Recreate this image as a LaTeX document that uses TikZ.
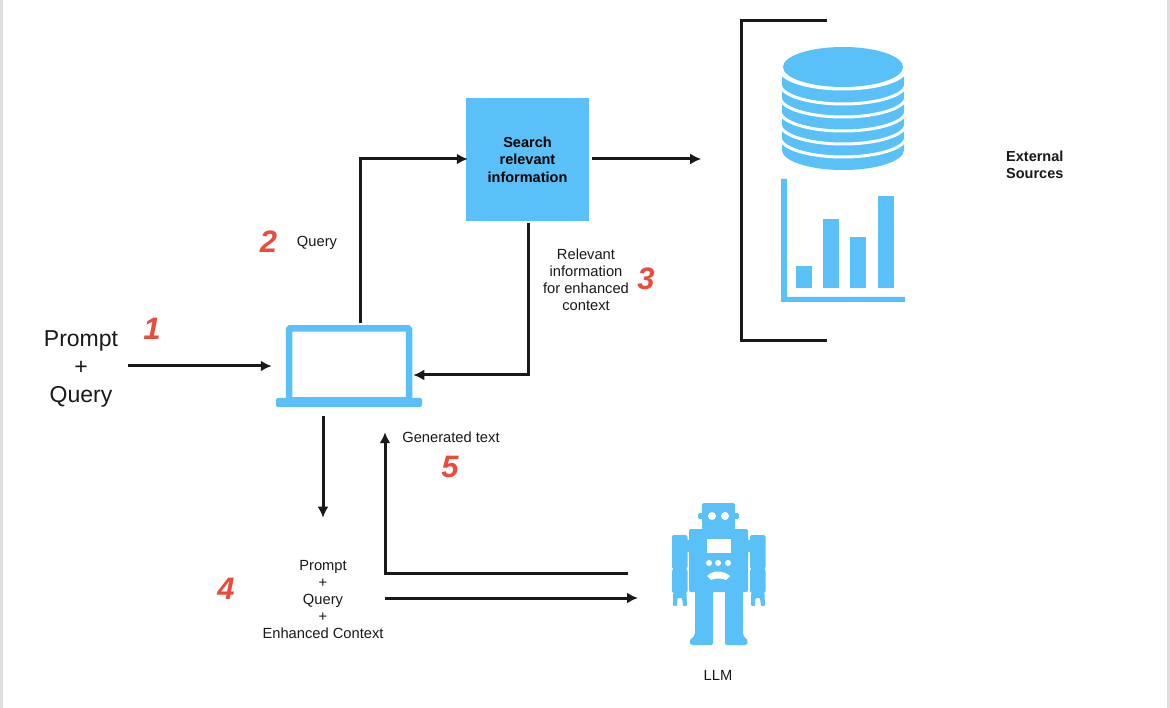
\documentclass[tikz,border=0pt]{standalone}
\usepackage{fontspec}
\setmainfont{Liberation Sans}
\usepackage{tikz}
\usetikzlibrary{arrows.meta,calc,positioning}
\definecolor{sky}{RGB}{90,193,248}
\definecolor{num}{RGB}{231,76,60}
\definecolor{edge}{RGB}{222,222,222}

\begin{document}
\begin{tikzpicture}[
      x=1pt, y=-1pt,
      font=\fontsize{14.7}{17}\selectfont,
      >={Latex[length=11pt,width=11pt]},
      flow/.style={->, line width=3pt, black!90},
      label/.style={align=center, inner sep=0pt, text=black!90},
      stepnum/.style={inner sep=0pt, text=num, font=\fontsize{31}{31}\selectfont\bfseries\itshape},
      searchbox/.style={fill=sky, minimum width=123pt, minimum height=123pt, inner sep=0pt, align=center, font=\fontsize{14.5}{17.5}\selectfont\bfseries},
      skyfill/.style={fill=sky, draw=none},
]

\useasboundingbox (0,0) rectangle (1170,708);
\fill[white] (0,0) rectangle (1170,708);
\fill[edge] (0,0) rectangle (3,708);
\fill[edge] (1167,0) rectangle (1170,708);

% laptop
\node[draw=sky, line width=6.5pt, rounded corners=1pt, minimum width=120pt, minimum height=72pt, inner sep=0pt] (laptop) at (349,364.5) {};
\node[skyfill, rounded corners=2pt, minimum width=146pt, minimum height=9pt, inner sep=0pt] (laptop_base) at (349,402.5) {};

\node[searchbox] (search) at (527.5,159.5) {Search\\relevant\\information};
\node[label, font=\fontsize{23}{28}\selectfont] (prompt) at (81,368.5) {Prompt\\+\\Query};
\node[label] (query) at (317,243) {Query};
\node[label] (relevant) at (586,279.5) {Relevant\\information\\for enhanced\\context};
\node[label] (generated) at (451,437) {Generated text};
\node[label] (enhanced) at (323,600) {Prompt\\+\\Query\\+\\Enhanced Context};
\node[label] (llm) at (718,675.5) {LLM};
\node[label, font=\fontsize{14.5}{17.5}\selectfont\bfseries, align=left, anchor=west] (external) at (1006,165) {External\\Sources};

\node[stepnum] (n1) at (152,329) {1};
\node[stepnum] (n2) at (268.5,242) {2};
\node[stepnum] (n3) at (646,279) {3};
\node[stepnum] (n4) at (226,589) {4};
\node[stepnum] (n5) at (450,467) {5};

% bracket round the sources
\draw[line width=3pt, black!90] (827,21) -- (741,21) -- (741,341) -- (827,341);

% database
\coordinate (db) at (843,67);
\fill[sky] ($(db)+(-61,5)$) -- ($(db)+(61,5)$) -- ($(db)+(61,83)$) arc[start angle=0, end angle=180, x radius=61, y radius=20] -- cycle;
\foreach \d in {3,18,31,45,58,71}
  \draw[white, line width=3pt] ($(db)+(-63,\d-1)$) arc[start angle=180, end angle=0, x radius=63, y radius=20];
\fill[white] (db) ellipse [x radius=62, y radius=22];
\fill[sky] (db) ellipse [x radius=60, y radius=20];

% chart
\fill[sky] (781,179) -- (787,179) -- (787,297) -- (905,297) -- (905,302) -- (781,302) -- cycle;
\foreach \x/\top in {796/266, 823/219, 850/237, 878/196}
  \fill[sky] (\x,\top) rectangle (\x+15.5,288);

% robot
\fill[sky, rounded corners=1.5pt] (702,503) rectangle (735,530);
\fill[sky, rounded corners=1.5pt] (698,513) rectangle (739,519);
\fill[sky, rounded corners=2pt] (689,529) rectangle (748,592);
\fill[sky, rounded corners=1.5pt] (695,590) -- (713,590) -- (713,645) -- (691,645) -- (689,641) -- (695,635) -- cycle;
\fill[sky, rounded corners=1.5pt] (725,590) -- (743,590) -- (743,635) -- (748,641) -- (747,645) -- (725,645) -- cycle;
\fill[sky] (686,540) rectangle (690,552) (747,540) rectangle (751,552);
\foreach \x in {672,750}{
  \fill[sky, rounded corners=2pt] (\x,535) rectangle (\x+15.5,593);
  \fill[sky, rounded corners=1pt] (\x+1,593) -- (\x+14.5,593) -- (\x+15,606) -- (\x+11,606) -- (\x+10,598) -- (\x+5.5,598) -- (\x+5,606) -- (\x+1,606) -- cycle;
  \fill[white] (\x-1,566) -- (\x+1,569) -- (\x-1,572) -- cycle;
  \fill[white] (\x+16.5,566) -- (\x+14.5,569) -- (\x+16.5,572) -- cycle;
}
\fill[white] (712,516) circle (4) (725,516) circle (4);
\fill[white] (707,539) rectangle (731,553);
\foreach \x in {709,718,728} \fill[white] (\x,563) circle (3);
\fill[white] (707,576) .. controls (713,570) and (723,570) .. (730,576) -- (726,580) .. controls (722,578) and (715,578) .. (711,580) -- cycle;

% connectors
\coordinate (prompt_in) at ($(laptop.west)+(-14,1.5)$);
\draw[flow] (prompt.east|-prompt_in) ++(10,0) -- (prompt_in);
\draw[flow] ($(laptop.north)+(11,-2)$) |- ($(search.west)+(2,-0.5)$);
\draw[flow] ($(search.east)+(3,-0.5)$) -- ($(search.east)+(112,-0.5)$);
\draw[flow] ($(search.south)+(0.5,2)$) |- ($(laptop.east)+(1,10.5)$);
\draw[flow] ($(laptop_base.south)+(-26,9)$) -- ($(enhanced.north)+(0,-43)$);
\coordinate (llm_out) at (628,573.5);
\coordinate (llm_in) at (638,598);
\draw[flow] (llm_out) -| ($(laptop_base.south)+(36,25)$);
\draw[flow] (385,598) -- (llm_in);

\end{tikzpicture}
\end{document}
